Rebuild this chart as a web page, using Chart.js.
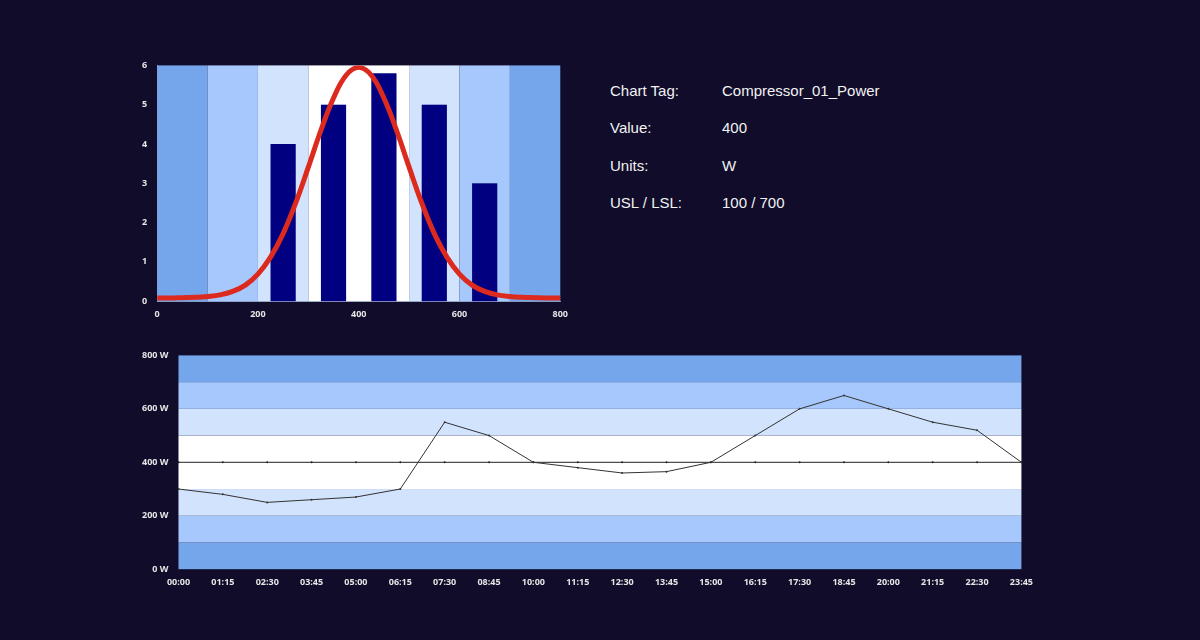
<!DOCTYPE html>
<html>
<head>
<meta charset="utf-8">
<script src="https://cdn.jsdelivr.net/npm/chart.js@4/dist/chart.umd.min.js"></script>
<style>
  body { margin: 0; background: #100c2a; width: 1200px; height: 640px; overflow: hidden; font-family: "Liberation Sans", Arial, sans-serif; }
  #histWrap { position: absolute; left: 140px; top: 58px; width: 428px; height: 262px; }
  #trendWrap { position: absolute; left: 140px; top: 348px; width: 893px; height: 240px; }
  .info { position: absolute; left: 610px; top: 82px; color: #f2f2f2; font-size: 15px; }
  .info div { height: 37.3px; }
  .info span { display: inline-block; width: 112px; }
</style>
</head>
<body>
<div id="histWrap"><canvas id="hist"></canvas></div>
<div id="trendWrap"><canvas id="trend"></canvas></div>
<div class="info">
  <div><span>Chart Tag:</span>Compressor_01_Power</div>
  <div><span>Value:</span>400</div>
  <div><span>Units:</span>W</div>
  <div><span>USL / LSL:</span>100 / 700</div>
</div>
<script>
const binCenters = [250, 350, 450, 550, 650]
const binCounts  = [4, 5, 5.8, 5, 3]
const binWidth   = 50

const curveX = [0,25,50,75,100,125,150,175,200,225,250,275,300,325,350,375,400,425,450,475,500,525,550,575,600,625,650,675,700,725,750,775,800]
const curveY = [0.08,0.08,0.09,0.10,0.12,0.16,0.25,0.41,0.69,1.12,1.72,2.50,3.41,4.35,5.17,5.75,5.95,5.75,5.17,4.35,3.41,2.50,1.72,1.12,0.69,0.41,0.25,0.16,0.12,0.10,0.09,0.08,0.08]

const times  = ["00:00","01:15","02:30","03:45","05:00","06:15","07:30","08:45","10:00","11:15","12:30","13:45","15:00","16:15","17:30","18:45","20:00","21:15","22:30","23:45"]
const power  = [300,280,250,260,270,300,550,500,400,380,360,365,400,500,600,650,600,550,520,400]
const target = 400

// band edges and colours (shared by both charts)
const bandEdges  = [0, 100, 200, 300, 500, 600, 700, 800]
const bandColors = ["#75a5eb", "#a6c8fc", "#d2e3fd", "#ffffff", "#d2e3fd", "#a6c8fc", "#75a5eb"]

const tickFont  = { size: 9, weight: "bold", family: "'Open Sans', sans-serif" }
const tickColor = "#e6e6e6"

const bandsPlugin = axis => ({
  id: "bands",
  beforeDatasetsDraw(chart) {
    const { ctx, chartArea: a, scales } = chart
    const s = scales[axis]
    ctx.save()
    for (let i = 0; i < bandColors.length; i++) {
      const p0 = s.getPixelForValue(bandEdges[i])
      const p1 = s.getPixelForValue(bandEdges[i + 1])
      ctx.fillStyle = bandColors[i]
      if (axis === "x") ctx.fillRect(p0, a.top, p1 - p0, a.bottom - a.top)
      else ctx.fillRect(a.left, p1, a.right - a.left, p0 - p1)
    }
    ctx.restore()
  }
})

const histBars = {
  id: "histBars",
  beforeDatasetsDraw(chart) {
    const { ctx, scales: { x, y } } = chart
    ctx.save()
    ctx.fillStyle = "#000080"
    binCenters.forEach((c, i) => {
      const l = x.getPixelForValue(c - binWidth / 2)
      const r = x.getPixelForValue(c + binWidth / 2)
      const t = y.getPixelForValue(binCounts[i])
      ctx.fillRect(l, t, r - l, y.getPixelForValue(0) - t)
    })
    ctx.restore()
  }
}

new Chart(document.getElementById("hist"), {
  type: "line",
  data: {
    datasets: [{
      data: curveX.map((x, i) => ({ x, y: curveY[i] })),
      borderColor: "#dd2a1f",
      borderWidth: 5,
      pointRadius: 0,
      tension: 0.4,
      fill: false
    }]
  },
  options: {
    responsive: true,
    maintainAspectRatio: false,
    animation: false,
    plugins: { legend: { display: false }, tooltip: { enabled: false } },
    scales: {
      x: {
        type: "linear", min: 0, max: 800,
        grid: { display: false },
        border: { color: "#8899bb" },
        ticks: { stepSize: 200, color: tickColor, font: tickFont, padding: 0, maxRotation: 0 }
      },
      y: {
        min: 0, max: 6,
        grid: { display: false },
        border: { color: "#8899bb" },
        ticks: { stepSize: 1, color: tickColor, font: tickFont, padding: 2 }
      }
    }
  },
  plugins: [bandsPlugin("x"), histBars]
})

new Chart(document.getElementById("trend"), {
  type: "line",
  data: {
    labels: times,
    datasets: [{
      data: power,
      borderColor: "#333333",
      borderWidth: 1,
      pointRadius: 1,
      pointBackgroundColor: "#333333",
      pointBorderWidth: 0,
      tension: 0
    }, {
      data: times.map(() => target),
      borderColor: "#222222",
      borderWidth: 1,
      pointRadius: 1,
      pointBackgroundColor: "#222222",
      pointBorderWidth: 0
    }]
  },
  options: {
    responsive: true,
    maintainAspectRatio: false,
    animation: false,
    layout: { padding: { right: 8 } },
    plugins: { legend: { display: false }, tooltip: { enabled: false } },
    scales: {
      x: {
        offset: false,
        grid: { display: false },
        border: { display: false },
        ticks: { color: tickColor, font: tickFont, maxRotation: 0, autoSkip: false, padding: 0 }
      },
      y: {
        min: 0, max: 800,
        grid: { display: false },
        border: { display: false },
        ticks: { stepSize: 200, color: tickColor, font: tickFont, padding: 2, callback: v => v + " W" }
      }
    }
  },
  plugins: [bandsPlugin("y")]
})
</script>
</body>
</html>
